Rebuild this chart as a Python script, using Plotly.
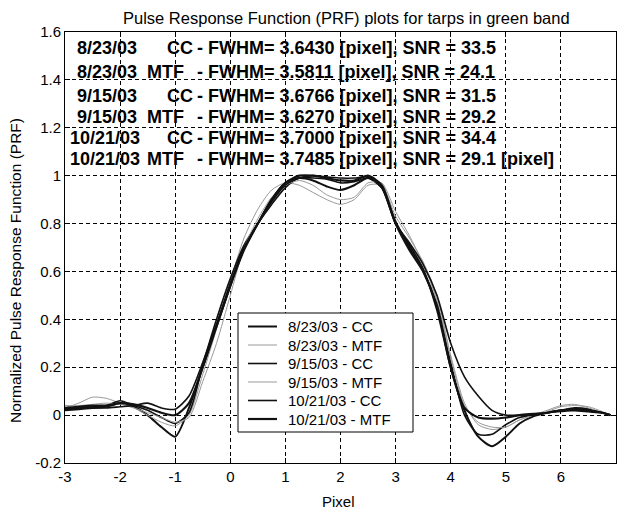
import plotly.graph_objects as go

# Pixel positions across the tarp edge profile
pixel = [-3.0, -2.75, -2.5, -2.25, -2.0, -1.75, -1.5, -1.25, -1.0, -0.75,
         -0.5, -0.25, 0.0, 0.25, 0.5, 0.75, 1.0, 1.25, 1.5, 1.75,
         2.0, 2.25, 2.5, 2.75, 3.0, 3.25, 3.5, 3.75, 4.0, 4.25,
         4.5, 4.75, 5.0, 5.25, 5.5, 5.75, 6.0, 6.25, 6.5, 6.75, 6.9]

prf_0823_cc = [0.02, 0.025, 0.03, 0.035, 0.05, 0.035, 0.0, -0.05, -0.09, 0.03,
               0.2, 0.37, 0.54, 0.7, 0.8, 0.9, 0.97, 0.99, 0.98, 0.955,
               0.94, 0.96, 0.99, 0.95, 0.8, 0.71, 0.61, 0.44, 0.2, 0.02,
               -0.09, -0.13, -0.09, -0.035, -0.005, 0.01, 0.02, 0.03, 0.025, 0.01, 0.0]
prf_0823_mtf = [0.03, 0.05, 0.075, 0.07, 0.05, 0.03, 0.0, -0.03, -0.045, 0.0,
                0.17, 0.36, 0.56, 0.74, 0.86, 0.94, 0.97, 0.96, 0.93, 0.9,
                0.88, 0.9, 0.96, 0.96, 0.83, 0.74, 0.64, 0.5, 0.25, 0.05,
                -0.04, -0.06, -0.05, -0.02, 0.0, 0.02, 0.04, 0.045, 0.03, 0.01, 0.0]
prf_0915_cc = [0.03, 0.03, 0.035, 0.04, 0.06, 0.04, 0.02, -0.01, -0.035, 0.01,
               0.21, 0.4, 0.57, 0.71, 0.8, 0.88, 0.95, 0.99, 0.99, 0.985,
               0.97, 0.975, 0.99, 0.95, 0.81, 0.7, 0.6, 0.45, 0.22, 0.0,
               -0.08, -0.08, -0.04, -0.01, 0.0, 0.01, 0.015, 0.02, 0.02, 0.01, 0.0]
prf_0915_mtf = [0.04, 0.04, 0.045, 0.05, 0.045, 0.03, 0.01, -0.01, -0.03, -0.01,
                0.14, 0.3, 0.5, 0.7, 0.82, 0.91, 0.96, 0.98, 0.96, 0.92,
                0.9, 0.91, 0.97, 0.97, 0.85, 0.75, 0.63, 0.48, 0.24, 0.04,
                -0.03, -0.05, -0.05, -0.02, 0.0, 0.015, 0.035, 0.04, 0.035, 0.015, 0.0]
prf_1021_cc = [0.025, 0.03, 0.03, 0.03, 0.035, 0.04, 0.05, 0.03, 0.025, 0.08,
               0.22, 0.38, 0.55, 0.7, 0.8, 0.89, 0.96, 0.99, 1.0, 0.995,
               0.99, 0.99, 0.995, 0.95, 0.8, 0.72, 0.63, 0.5, 0.3, 0.16,
               0.08, 0.02, 0.0, 0.0, 0.0, 0.01, 0.02, 0.025, 0.02, 0.01, 0.0]
prf_1021_mtf = [0.03, 0.035, 0.04, 0.04, 0.05, 0.045, 0.03, 0.01, 0.0, 0.05,
                0.2, 0.37, 0.54, 0.69, 0.8, 0.9, 0.97, 1.0, 1.0, 0.99,
                0.98, 0.98, 1.0, 0.96, 0.8, 0.69, 0.6, 0.46, 0.2, 0.03,
                -0.01, -0.015, -0.01, 0.0, 0.005, 0.01, 0.02, 0.02, 0.015, 0.01, 0.0]

series_names = ["8/23/03 - CC", "8/23/03 - MTF", "9/15/03 - CC",
                "9/15/03 - MTF", "10/21/03 - CC", "10/21/03 - MTF"]
series_values = [prf_0823_cc, prf_0823_mtf, prf_0915_cc,
                 prf_0915_mtf, prf_1021_cc, prf_1021_mtf]

# Per-collect summary shown in the upper-left block
dates = ["8/23/03", "8/23/03", "9/15/03", "9/15/03", "10/21/03", "10/21/03"]
methods = ["CC", "MTF", "CC", "MTF", "CC", "MTF"]
fwhm = ["3.6430", "3.5811", "3.6766", "3.6270", "3.7000", "3.7485"]
snr = ["33.5", "24.1", "31.5", "29.2", "34.4", "29.1 [pixel]"]

x_ticks = [-3, -2, -1, 0, 1, 2, 3, 4, 5, 6, 7]
x_tick_text = ["-3", "-2", "-1", "0", "1", "2", "3", "4", "5", "6", "7"]
y_ticks = [-0.2, 0, 0.2, 0.4, 0.6, 0.8, 1, 1.2, 1.4, 1.6]
y_tick_text = ["-0.2", "0", "0.2", "0.4", "0.6", "0.8", "1", "1.2", "1.4", "1.6"]

styles = [
    dict(color="#111111", width=2.0),
    dict(color="#9a9a9a", width=1.0),
    dict(color="#111111", width=1.6),
    dict(color="#9a9a9a", width=1.0),
    dict(color="#111111", width=1.6),
    dict(color="#111111", width=2.2),
]

FONT = "Liberation Sans, Arial, sans-serif"

# Page geometry (pixels) and helpers to place things in paper coordinates
W, H = 620, 510
ML, MR, MT, MB = 65, 4, 32, 47
pw, ph = W - ML - MR, H - MT - MB


def paper_x(px):
    return (px - ML) / pw


def paper_y(py):
    return (H - MB - py) / ph


fig = go.Figure()
for name, vals, st in zip(series_names, series_values, styles):
    fig.add_trace(go.Scatter(x=pixel, y=vals, mode="lines", name=name,
                             showlegend=False,
                             line=dict(shape="spline", smoothing=0.7, **st)))

annotations = []
shapes = []

# Summary text block: date, method, then FWHM / SNR columns
row_py = [48, 72, 96, 117, 138, 159]
bold = dict(family=FONT, size=18, color="black", weight="bold")
for i in range(len(dates)):
    date_px = 69 if len(dates[i]) > 7 else 76
    meth_px = 166 if methods[i] == "CC" else 146
    for px, txt in ((date_px, dates[i]), (meth_px, methods[i]),
                    (196, f"- FWHM= {fwhm[i]} [pixel], SNR = {snr[i]}")):
        annotations.append(dict(x=paper_x(px), y=paper_y(row_py[i]),
                                xref="paper", yref="paper", text=txt,
                                showarrow=False, xanchor="left", yanchor="middle",
                                borderpad=0, font=bold))

# Legend box with line samples and labels
leg_left, leg_right, leg_top, leg_bottom = 238, 413, 313, 432
shapes.append(dict(type="rect", xref="paper", yref="paper",
                   x0=paper_x(leg_left), x1=paper_x(leg_right),
                   y0=paper_y(leg_bottom), y1=paper_y(leg_top),
                   line=dict(color="black", width=1), fillcolor="white", layer="above"))
for i, (name, st) in enumerate(zip(series_names, styles)):
    cy = 326.5 + i * 18.5
    shapes.append(dict(type="line", xref="paper", yref="paper",
                       x0=paper_x(248), x1=paper_x(277),
                       y0=paper_y(cy), y1=paper_y(cy),
                       line=dict(color=st["color"], width=st["width"]), layer="above"))
    annotations.append(dict(x=paper_x(287), y=paper_y(cy), xref="paper", yref="paper",
                            text=name, showarrow=False, xanchor="left", yanchor="middle",
                            borderpad=0, font=dict(family=FONT, size=15, color="black")))

# Title and axis titles
label_font = dict(family=FONT, size=15, color="black")
annotations.append(dict(x=paper_x(346), y=paper_y(18), xref="paper", yref="paper",
                        text="Pulse Response Function (PRF) plots for tarps in green band",
                        showarrow=False, xanchor="center", yanchor="middle",
                        font=dict(family=FONT, size=16.5, color="black")))
annotations.append(dict(x=paper_x(338), y=paper_y(501), xref="paper", yref="paper",
                        text="Pixel", showarrow=False, xanchor="center", yanchor="middle",
                        font=label_font))
annotations.append(dict(x=paper_x(15), y=paper_y(271), xref="paper", yref="paper",
                        text="Normalized Pulse Response Function (PRF)",
                        showarrow=False, textangle=-90, xanchor="center", yanchor="middle",
                        font=dict(family=FONT, size=15.5, color="black")))

axis_common = dict(showline=True, linecolor="black", linewidth=1, mirror="ticks",
                   ticks="inside", ticklen=5, tickcolor="black",
                   showgrid=True, gridcolor="black", gridwidth=1, griddash="4px,3px",
                   zeroline=False, tickfont=dict(family=FONT, size=15, color="black"))

fig.update_layout(
    width=W, height=H,
    margin=dict(l=ML, r=MR, t=MT, b=MB),
    paper_bgcolor="white", plot_bgcolor="white",
    xaxis=dict(range=[-3, 7], tickvals=x_ticks, ticktext=x_tick_text, **axis_common),
    yaxis=dict(range=[-0.2, 1.6], tickvals=y_ticks, ticktext=y_tick_text, **axis_common),
    showlegend=False,
    annotations=annotations,
    shapes=shapes,
)

fig.write_html("out.html")
